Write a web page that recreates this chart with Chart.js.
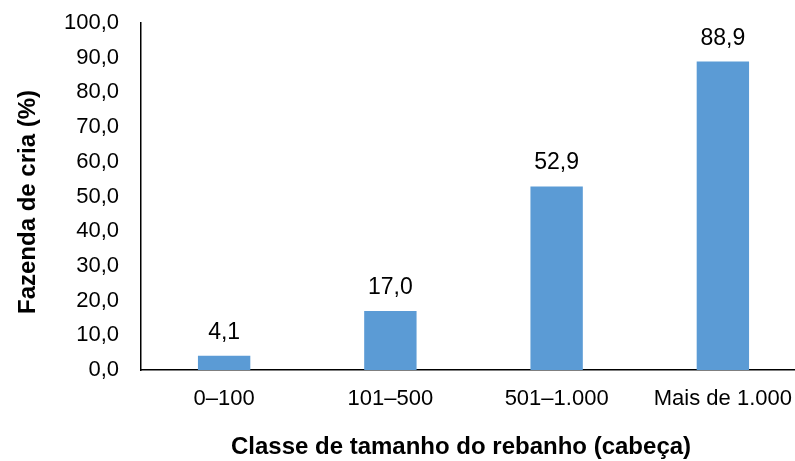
<!DOCTYPE html>
<html>
<head>
<meta charset="utf-8">
<script src="https://cdn.jsdelivr.net/npm/chart.js@4"></script>
<style>
  html, body { margin: 0; padding: 0; background: #fff; overflow: hidden; }
  #wrap { position: relative; width: 806px; height: 461px; }
</style>
</head>
<body>
<div id="wrap"><canvas id="chart"></canvas></div>
<script>
const categories = ['0–100', '101–500', '501–1.000', 'Mais de 1.000'];
const values = [4.1, 17.0, 52.9, 88.9];
const yTicks = [0, 10, 20, 30, 40, 50, 60, 70, 80, 90, 100];
const xTitle = 'Classe de tamanho do rebanho (cabeça)';
const yTitle = 'Fazenda de cria (%)';

const FONT = '"Liberation Sans", Arial, sans-serif';
const fmt = v => v.toFixed(1).replace('.', ',');

// Value labels above each bar
const valueLabels = {
  id: 'valueLabels',
  afterDatasetsDraw(chart) {
    const ctx = chart.ctx;
    const meta = chart.getDatasetMeta(0);
    ctx.save();
    ctx.font = '23px ' + FONT;
    ctx.fillStyle = '#000';
    ctx.textAlign = 'center';
    ctx.textBaseline = 'alphabetic';
    meta.data.forEach((bar, i) => {
      ctx.fillText(fmt(values[i]), bar.x, bar.y - 17);
    });
    ctx.restore();
  }
};

// Axis titles
const axisTitles = {
  id: 'axisTitles',
  afterDraw(chart) {
    const ctx = chart.ctx;
    ctx.save();
    ctx.font = 'bold 24px ' + FONT;
    ctx.fillStyle = '#000';
    ctx.textAlign = 'center';
    ctx.textBaseline = 'middle';
    ctx.fillText(xTitle, 461, 447);
    ctx.translate(28, 202);
    ctx.rotate(-Math.PI / 2);
    ctx.fillText(yTitle, 0, 0);
    ctx.restore();
  }
};

new Chart(document.getElementById('chart'), {
  type: 'bar',
  data: {
    labels: categories,
    datasets: [{
      data: values,
      backgroundColor: '#5B9BD5',
      borderWidth: 0,
      barPercentage: 0.315,
      categoryPercentage: 1.0
    }]
  },
  options: {
    responsive: true,
    maintainAspectRatio: false,
    animation: false,
    layout: { padding: { top: 23, right: 0, left: 0, bottom: 0 } },
    plugins: {
      legend: { display: false },
      tooltip: { enabled: false }
    },
    scales: {
      x: {
        grid: { display: false, drawTicks: false },
        border: { display: true, color: '#000', width: 1.5 },
        ticks: {
          color: '#000',
          font: { family: FONT, size: 22 },
          padding: 16,
          maxRotation: 0,
          autoSkip: false
        },
        afterFit(scale) {
          scale.height = 91;
          scale.paddingLeft = 0;
          scale.paddingRight = 0;
        }
      },
      y: {
        min: 0,
        max: 100,
        afterBuildTicks(scale) { scale.ticks = yTicks.map(v => ({ value: v })); },
        grid: { display: false, drawTicks: false },
        border: { display: true, color: '#000', width: 1.5 },
        ticks: {
          color: '#000',
          font: { family: FONT, size: 22 },
          padding: 22,
          callback: v => fmt(v)
        },
        afterFit(scale) {
          scale.width = 141;
          scale.paddingTop = 0;
          scale.paddingBottom = 0;
        }
      }
    }
  },
  plugins: [valueLabels, axisTitles]
});
</script>
</body>
</html>
